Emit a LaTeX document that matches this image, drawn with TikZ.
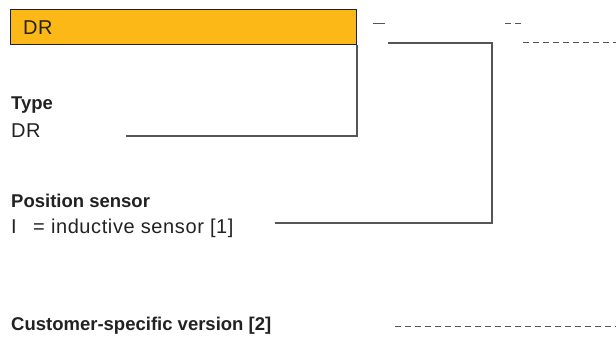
\documentclass[tikz,border=0pt]{standalone}
\usepackage{fontspec}
\setmainfont{Liberation Sans}
\usepackage{tikz}

\definecolor{codeorange}{HTML}{FBB817}
\definecolor{linegray}{HTML}{555555}
\definecolor{textdark}{HTML}{222222}

\begin{document}
\begin{tikzpicture}[x=1pt, y=-1pt,
      codebox/.style={draw=textdark, line width=1pt, fill=codeorange, minimum width=346pt,
        minimum height=35pt, inner sep=0pt, anchor=north west},
      txt/.style={anchor=base west, inner sep=0pt, text=textdark,
        font=\fontsize{20}{22}\selectfont\addfontfeatures{LetterSpace=3}},
      head/.style={anchor=base west, inner sep=0pt, text=textdark, font=\fontsize{18.5}{20}\selectfont\bfseries},
      conn/.style={draw=linegray, line width=1.2pt},
      placeholder/.style={draw=linegray, line width=1pt, dash pattern=on 5.5pt off 4.5pt}
    ]
      \useasboundingbox (0,0) rectangle (616,339);

      % Code box
      \node[codebox] (code) at (10,9) {};
      \node[txt] (codetxt) at (23,35) {DR};

      % Placeholders behind the box
      \draw[conn, line width=1pt] (373,24) coordinate (d1a) -- (385,24) coordinate (d1b);
      \draw[placeholder] (505,24) coordinate (d2a) -- (524,24) coordinate (d2b);
      \draw[placeholder] (523,43) coordinate (d3a) -- (616,43) coordinate (d3b);

      % Type
      \node[head] (typehead) at (11,110) {Type};
      \node[txt] (typeval) at (11,138) {DR};
      \coordinate (typeend) at (126,136);
      \draw[conn] (code.south east) |- (typeend);

      % Position sensor
      \node[head] (senshead) at (11,208) {Position sensor};
      \node[txt] (sensval) at (11,234) {I};
      \node[txt] (sensdesc) at (33,234) {= inductive sensor [1]};
      \coordinate (sensstart) at (388,43);
      \coordinate (senscorner) at (492,43);
      \coordinate (sensend) at (275,223);
      \draw[conn] (sensstart) -- (senscorner) |- (sensend);

      % Customer-specific version
      \node[head] (custhead) at (11,330) {Customer-specific version [2]};
      \coordinate (custstart) at (395,326);
      \coordinate (custend) at (616,326);
      \draw[placeholder] (custstart) -- (custend);
    \end{tikzpicture}
\end{document}
